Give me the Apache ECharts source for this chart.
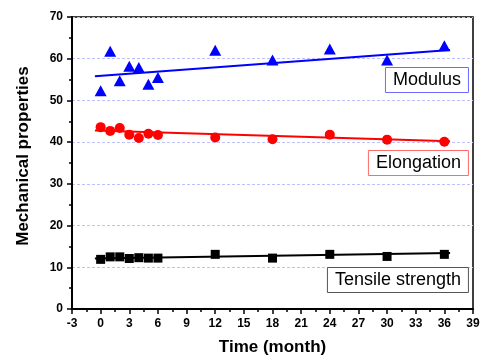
<!DOCTYPE html>
<html>
<head>
<meta charset="utf-8">
<script src="https://cdn.jsdelivr.net/npm/echarts@6/dist/echarts.min.js"></script>
<style>
  html, body { margin: 0; padding: 0; background: #fff; }
  #chart { width: 485px; height: 361px; }
</style>
</head>
<body>
<div id="chart"></div>
<script>
// months of ageing
var months = [0, 1, 2, 3, 4, 5, 6, 12, 18, 24, 30, 36];

var modulus    = [52.3, 61.8, 54.7, 58.2, 57.9, 53.9, 55.5, 62.0, 59.7, 62.3, 59.7, 63.1];
var elongation = [43.6, 42.7, 43.4, 41.8, 41.0, 42.0, 41.7, 41.1, 40.7, 41.8, 40.6, 40.1];
var tensile    = [11.9, 12.5, 12.5, 12.1, 12.3, 12.2, 12.2, 13.1, 12.2, 13.1, 12.6, 13.1];

// linear fit end points [x start, x end] and values
var fitX          = [-0.6, 36.6];
var modulusFit    = [55.8, 62.1];
var elongationFit = [42.8, 40.2];
var tensileFit    = [12.1, 13.4];

var xTicks = { min: -3, max: 39, step: 3 };
var yTicks = { min: 0, max: 70, step: 10 };

function pts(xs, ys) {
    return xs.map(function (x, i) { return [x, ys[i]]; });
}

var chart = echarts.init(document.getElementById('chart'));

var tickFont = { fontFamily: 'Liberation Sans, Arial', fontWeight: 'bold', fontSize: 12, color: '#000' };
var nameFont = { fontFamily: 'Liberation Sans, Arial', fontWeight: 'bold', fontSize: 17, color: '#000' };

function boxLabel(text, top, color) {
    return {
        text: text,
        right: 16,
        top: top,
        padding: [4, 8, 4, 8],
        borderColor: color,
        borderWidth: 1,
        backgroundColor: '#fff',
        textStyle: { fontFamily: 'Liberation Sans, Arial', fontWeight: 'normal', fontSize: 18, color: '#000' }
    };
}

var option = {
    animation: false,
    backgroundColor: '#fff',
    title: [
        boxLabel('Modulus', 67, '#6b6bff'),
        boxLabel('Elongation', 150, '#ff6b6b'),
        boxLabel('Tensile strength', 267, '#555')
    ],
    grid: {
        left: 72, right: 12, top: 17, bottom: 51,
        show: true, borderColor: '#000', borderWidth: 1.5
    },
    xAxis: {
        type: 'value',
        min: xTicks.min, max: xTicks.max, interval: xTicks.step,
        name: 'Time (month)',
        nameLocation: 'middle',
        nameGap: 30,
        nameTextStyle: nameFont,
        axisLine: { onZero: false, lineStyle: { color: '#000', width: 2 } },
        axisTick: { length: 5, lineStyle: { width: 1.5 } },
        minorTick: { show: true, splitNumber: 2, length: 3, lineStyle: { color: '#000', width: 1.5 } },
        axisLabel: Object.assign({ margin: 9 }, tickFont),
        splitLine: { show: false }
    },
    yAxis: {
        type: 'value',
        min: yTicks.min, max: yTicks.max, interval: yTicks.step,
        name: 'Mechanical properties',
        nameLocation: 'middle',
        nameGap: 40,
        nameTextStyle: Object.assign({ padding: [0, 0, 0, 14] }, nameFont),
        axisLine: { show: true, onZero: false, lineStyle: { color: '#000', width: 2 } },
        axisTick: { show: true, length: 5, lineStyle: { width: 1.5 } },
        minorTick: { show: true, splitNumber: 2, length: 3, lineStyle: { color: '#000', width: 1.5 } },
        axisLabel: Object.assign({ margin: 9 }, tickFont),
        splitLine: { show: true, lineStyle: { color: '#bcc0ff', width: 1, type: [3, 2] } }
    },
    series: [
        { type: 'line', data: pts(fitX, modulusFit), symbol: 'none', lineStyle: { color: '#0000ff', width: 2 }, z: 2 },
        { type: 'line', data: pts(fitX, elongationFit), symbol: 'none', lineStyle: { color: '#ff0000', width: 2 }, z: 2 },
        { type: 'line', data: pts(fitX, tensileFit), symbol: 'none', lineStyle: { color: '#000', width: 2 }, z: 2 },
        { type: 'scatter', name: 'Modulus', data: pts(months, modulus), symbol: 'triangle', symbolSize: [12, 11], itemStyle: { color: '#0000ff', opacity: 1 }, z: 3 },
        { type: 'scatter', name: 'Elongation', data: pts(months, elongation), symbol: 'circle', symbolSize: 10, itemStyle: { color: '#ff0000', opacity: 1 }, z: 3 },
        { type: 'scatter', name: 'Tensile strength', data: pts(months, tensile), symbol: 'rect', symbolSize: 9, itemStyle: { color: '#000', opacity: 1 }, z: 3 }
    ]
};

chart.setOption(option);
</script>
</body>
</html>
